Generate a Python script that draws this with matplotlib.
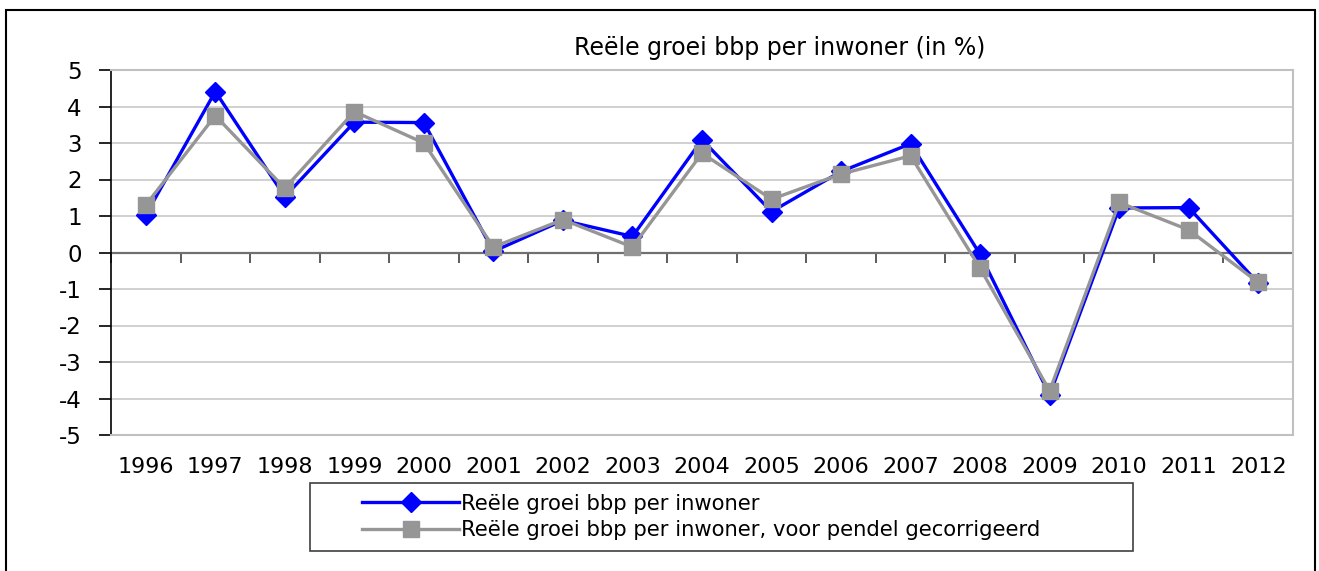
import matplotlib
matplotlib.use('Agg')
import matplotlib.pyplot as plt
from matplotlib.patches import Rectangle
import numpy as np

years = ['1996', '1997', '1998', '1999', '2000', '2001', '2002', '2003', '2004',
         '2005', '2006', '2007', '2008', '2009', '2010', '2011', '2012']
groei = [1.03, 4.41, 1.53, 3.57, 3.56, 0.03, 0.88, 0.44, 3.09,
         1.12, 2.22, 2.98, -0.05, -3.90, 1.22, 1.23, -0.84]
groei_pendel = [1.30, 3.75, 1.76, 3.86, 3.00, 0.15, 0.90, 0.15, 2.72,
                1.46, 2.15, 2.65, -0.43, -3.79, 1.37, 0.62, -0.82]

W, H = 1319, 571
plt.rcParams['font.family'] = ['DejaVu Sans']
plt.rcParams['axes.unicode_minus'] = False

fig = plt.figure(figsize=(W / 100, H / 100), dpi=100)
ax = fig.add_axes([111 / W, 1 - 435 / H, (1293 - 111) / W, (435 - 70) / H])

x = np.arange(len(years))
ax.plot(x, groei, color='#0000ff', lw=2.4, marker='D', ms=10, mec='#0000ff',
        mfc='#0000ff', label='Reële groei bbp per inwoner', zorder=3)
ax.plot(x, groei_pendel, color='#969696', lw=2.4, marker='s', ms=12, mec='#969696',
        mfc='#969696', label='Reële groei bbp per inwoner, voor pendel gecorrigeerd', zorder=4)

ax.set_xlim(-0.5, len(years) - 0.5)
ax.set_ylim(-5, 5)
ax.set_yticks(range(-5, 6))
ax.yaxis.grid(True, color='#c8c8c8', lw=1.2)
ax.set_axisbelow(True)
ax.tick_params(axis='y', length=9, width=1.2, direction='out', pad=12, labelsize=16.5)

ax.set_xticks(x)
ax.set_xticklabels(years)
ax.tick_params(axis='x', length=0, pad=16, labelsize=16)

for s in ['top', 'right', 'bottom']:
    ax.spines[s].set_color('#c0c0c0')
    ax.spines[s].set_linewidth(1.5)
ax.spines['left'].set_color('black')
ax.spines['left'].set_linewidth(1.2)

# category axis at zero with tick marks between categories
ax.axhline(0, color='#707070', lw=1.6, zorder=2)
sec = ax.secondary_xaxis(0.5)
sec.set_xticks(np.arange(-0.5, len(years), 1.0))
sec.set_xticklabels([])
sec.tick_params(axis='x', length=8, width=1.2, direction='in', color='#404040')
for s in sec.spines.values():
    s.set_visible(False)

fig.text(780 / W, 1 - 48 / H, 'Reële groei bbp per inwoner (in %)', ha='center',
         va='center', fontsize=17)

# legend box
fig.patches.append(Rectangle((310 / W, 1 - 551 / H), (1133 - 310) / W, (551 - 483) / H,
                             transform=fig.transFigure, fill=False, ec='#404040', lw=1.2))
leg = fig.legend(loc='center left', bbox_to_anchor=(362 / W, 1 - 517 / H), frameon=False,
                 fontsize=15.2, handlelength=4.6, handletextpad=0.1, labelspacing=0.3,
                 borderpad=0, borderaxespad=0)

# outer chart border
fig.patches.append(Rectangle((6 / W, -0.05), (1315 - 6) / W, 1.05 - 10 / H,
                             transform=fig.transFigure, fill=False, ec='black', lw=1.5,
                             clip_on=False))

fig.savefig('out.png', dpi=100)
